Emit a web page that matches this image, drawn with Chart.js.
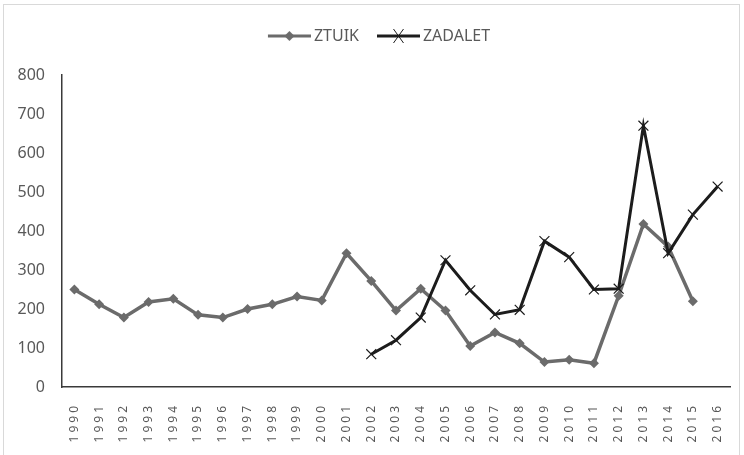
<!DOCTYPE html>
<html>
<head>
<meta charset="utf-8">
<script src="https://cdn.jsdelivr.net/npm/chart.js@4.4.0/dist/chart.umd.min.js"></script>
<style>
  html, body { margin: 0; padding: 0; background: #fff; }
  #wrap { position: relative; width: 744px; height: 455px; }
  #frame { position: absolute; left: 3px; top: 4px; width: 737px; height: 460px; border: 1px solid #d9d9d9; box-sizing: border-box; }
  #chart { position: absolute; left: 0; top: 0; }
</style>
</head>
<body>
<div id="wrap">
  <div id="frame"></div>
  <canvas id="chart" width="744" height="455"></canvas>
</div>
<script>
// Years on the x axis
const years = ['1990', '1991', '1992', '1993', '1994', '1995', '1996', '1997', '1998', '1999',
  '2000', '2001', '2002', '2003', '2004', '2005', '2006', '2007', '2008', '2009',
  '2010', '2011', '2012', '2013', '2014', '2015', '2016'];

// Series values
const ztuik = [250, 212, 178, 218, 226, 185, 178, 200, 212, 232,
  222, 343, 272, 196, 252, 196, 105, 140, 112, 64,
  70, 61, 234, 418, 360, 220, null];

const zadalet = [null, null, null, null, null, null, null, null, null, null,
  null, null, 84, 120, 178, 325, 248, 186, 198, 374,
  333, 250, 252, 670, 343, 442, 514];

const yTicks = [0, 100, 200, 300, 400, 500, 600, 700, 800];

const greyLine = '#6b6b6b';
const blackLine = '#1c1c1c';
const textGrey = '#595959';

// legend swatch: line with the marker in the middle
function swatch(color, marker) {
  const c = document.createElement('canvas');
  c.width = 56; c.height = 16;
  const g = c.getContext('2d');
  g.strokeStyle = color;
  g.lineWidth = 3;
  g.beginPath(); g.moveTo(13, 8); g.lineTo(56, 8); g.stroke();
  const cx = 34.5;
  if (marker === 'diamond') {
    g.fillStyle = color;
    g.beginPath();
    g.moveTo(cx, 3); g.lineTo(cx + 5, 8); g.lineTo(cx, 13); g.lineTo(cx - 5, 8);
    g.closePath(); g.fill();
  } else {
    g.lineWidth = 1;
    g.beginPath();
    g.moveTo(cx - 5, 1); g.lineTo(cx + 5, 15);
    g.moveTo(cx + 5, 1); g.lineTo(cx - 5, 15);
    g.stroke();
  }
  return c;
}

// spaced out digits on the x axis, extra room under the legend, legend nudged right
const tweaks = {
  id: 'tweaks',
  beforeLayout(chart) {
    const lg = chart.legend;
    if (lg && !lg._grown) {
      const fit = lg.fit.bind(lg);
      lg.fit = function () { fit(); this.height += 21; };
      lg._grown = true;
    }
  },
  afterLayout(chart) {
    const lg = chart.legend;
    if (lg) { lg.left += 10; lg.right += 10; }
    const s = chart.scales.x;
    if (s._spaced) return;
    const orig = s.drawLabels.bind(s);
    s.drawLabels = function (area) {
      const ctx = this.ctx;
      ctx.save();
      ctx.letterSpacing = '3px';
      orig(area);
      ctx.restore();
    };
    s._spaced = true;
  }
};

new Chart(document.getElementById('chart'), {
  type: 'line',
  data: {
    labels: years,
    datasets: [
      {
        label: 'ZTUIK',
        data: ztuik,
        borderColor: greyLine,
        backgroundColor: greyLine,
        borderWidth: 3.5,
        pointStyle: 'rectRot',
        pointRadius: 5,
        pointBorderWidth: 0,
        pointBackgroundColor: greyLine,
        tension: 0,
        order: 1
      },
      {
        label: 'ZADALET',
        data: zadalet,
        borderColor: blackLine,
        backgroundColor: blackLine,
        borderWidth: 3,
        pointStyle: 'crossRot',
        pointRadius: 7,
        pointBorderWidth: 1.2,
        pointBorderColor: blackLine,
        tension: 0,
        order: 0
      }
    ]
  },
  options: {
    responsive: false,
    animation: false,
    layout: { padding: { top: 18, right: 14, left: 0, bottom: 0 } },
    plugins: {
      tooltip: { enabled: false },
      legend: {
        position: 'top',
        labels: {
          usePointStyle: true,
          pointStyleWidth: 46,
          boxHeight: 16,
          padding: 10,
          color: textGrey,
          font: { family: 'Noto Sans', size: 16 },
          generateLabels: (chart) => [
            { text: 'ZTUIK', pointStyle: swatch(greyLine, 'diamond'), fontColor: textGrey, datasetIndex: 0, hidden: false, lineWidth: 0 },
            { text: 'ZADALET', pointStyle: swatch(blackLine, 'cross'), fontColor: textGrey, datasetIndex: 1, hidden: false, lineWidth: 0 }
          ]
        }
      }
    },
    scales: {
      x: {
        offset: true,
        grid: { display: false },
        border: { display: true, color: '#3a3a3a', width: 1.5 },
        ticks: {
          autoSkip: false,
          minRotation: 90,
          maxRotation: 90,
          padding: 8,
          color: textGrey,
          font: { family: 'Noto Sans', size: 12 }
        },
        afterFit: (s) => { s.height = 68; }
      },
      y: {
        min: 0,
        max: 800,
        grid: { display: false },
        border: { display: true, color: '#3a3a3a', width: 1.5 },
        afterBuildTicks: (s) => { s.ticks = yTicks.map(v => ({ value: v })); },
        ticks: {
          padding: 9,
          color: textGrey,
          font: { family: 'Noto Sans', size: 16 }
        },
        afterFit: (s) => { s.width = 62; }
      }
    }
  },
  plugins: [tweaks]
});
</script>
</body>
</html>
